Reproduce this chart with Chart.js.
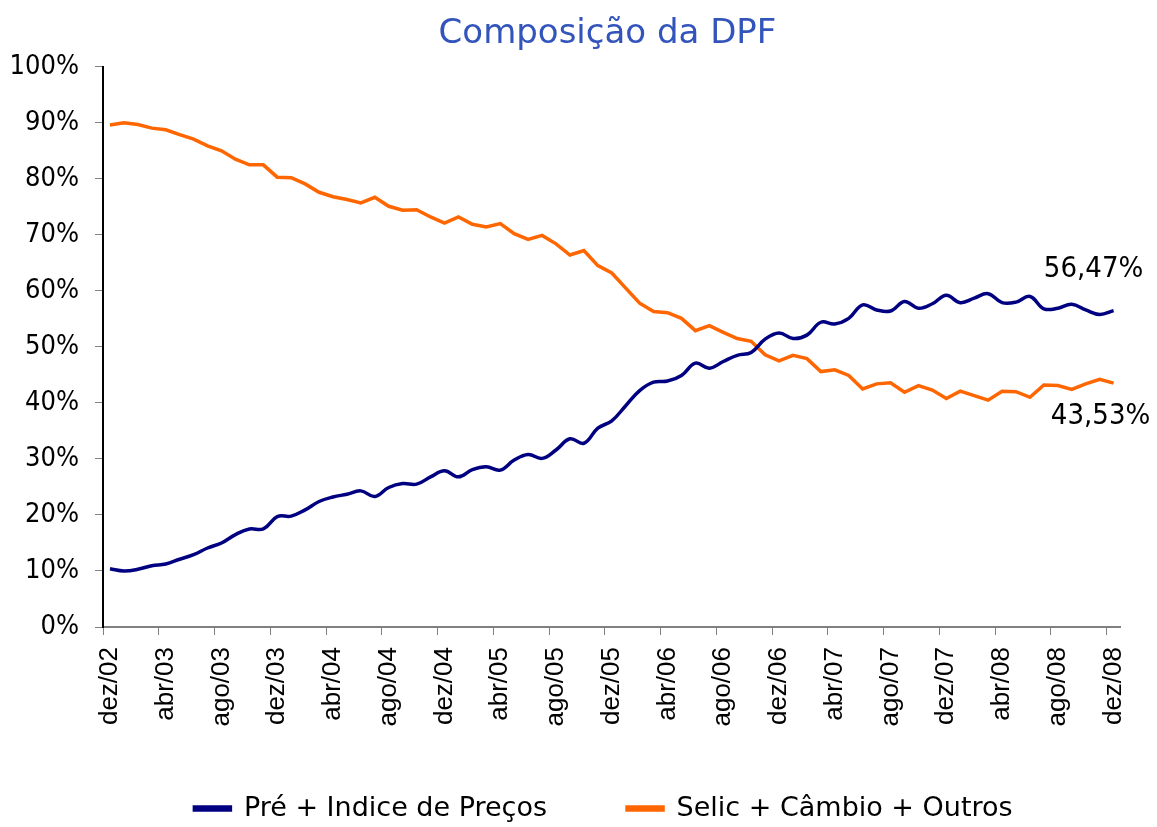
<!DOCTYPE html>
<html>
<head>
<meta charset="utf-8">
<script src="https://cdn.jsdelivr.net/npm/chart.js@4"></script>
<style>
  html, body { margin: 0; padding: 0; background: #fff; }
  #wrap { width: 1157px; height: 827px; }
</style>
</head>
<body>
<div id="wrap"><canvas id="dpf" width="1157" height="827"></canvas></div>
<script>
const monthNames = ['jan', 'fev', 'mar', 'abr', 'mai', 'jun', 'jul', 'ago', 'set', 'out', 'nov', 'dez'];

/* monthly, dez/02 .. dez/08 (73 months) */
const months = [];
for (let y = 2002; y <= 2008; y++) {
  monthNames.forEach((m, i) => {
    if (y === 2002 && i < 11) return;
    months.push(m + '/' + String(y).slice(2));
  });
}

const preIndice = [
  10.4, 10.0, 10.3, 10.95, 11.25, 12.1, 12.9, 14.1, 15.0, 16.5, 17.5, 17.5,
  19.7, 19.8, 20.9, 22.4, 23.2, 23.7, 24.3, 23.3, 24.9, 25.6, 25.5, 26.8,
  27.9, 26.8, 28.1, 28.6, 28.0, 29.8, 30.8, 30.1, 31.6, 33.6, 32.8, 35.5,
  36.8, 39.5, 42.2, 43.7, 43.9, 44.9, 47.1, 46.2, 47.4, 48.5, 49.0, 51.4,
  52.5, 51.5, 52.1, 54.4, 54.1, 55.1, 57.5, 56.6, 56.4, 58.1, 56.9, 57.7,
  59.2, 57.9, 58.7, 59.5, 57.9, 58.0, 59.0, 56.8, 56.9, 57.6, 56.6, 55.8,
  56.47
];

const selicCambio = [
  89.6, 90.0, 89.7, 89.05, 88.75, 87.9, 87.1, 85.9, 85.0, 83.5, 82.5, 82.5,
  80.3, 80.2, 79.1, 77.6, 76.8, 76.3, 75.7, 76.7, 75.1, 74.4, 74.5, 73.2,
  72.1, 73.2, 71.9, 71.4, 72.0, 70.2, 69.2, 69.9, 68.4, 66.4, 67.2, 64.5,
  63.2, 60.5, 57.8, 56.3, 56.1, 55.1, 52.9, 53.8, 52.6, 51.5, 51.0, 48.6,
  47.5, 48.5, 47.9, 45.6, 45.9, 44.9, 42.5, 43.4, 43.6, 41.9, 43.1, 42.3,
  40.8, 42.1, 41.3, 40.5, 42.1, 42.0, 41.0, 43.2, 43.1, 42.4, 43.4, 44.2,
  43.53
];

const yTicks = [0, 10, 20, 30, 40, 50, 60, 70, 80, 90, 100];

const condensed = '"DejaVu Sans Condensed", "DejaVu Sans", sans-serif';
const wide = '"DejaVu Sans", sans-serif';
Chart.defaults.font.family = condensed;
Chart.defaults.color = '#000';

function pct(v) {
  return v.toFixed(2).replace('.', ',') + '%';
}

/* final values written next to the line ends */
const endLabels = {
  id: 'endLabels',
  afterDatasetsDraw(chart) {
    const ctx = chart.ctx;
    ctx.save();
    ctx.font = '29px ' + condensed;
    ctx.fillStyle = '#000';
    ctx.textAlign = 'center';
    ctx.textBaseline = 'middle';
    const offsets = [[-20, -41], [-13, 33]];
    chart.data.datasets.forEach((ds, i) => {
      const meta = chart.getDatasetMeta(i);
      const last = meta.data[meta.data.length - 1];
      ctx.fillText(pct(ds.data[ds.data.length - 1]), last.x + offsets[i][0], last.y + offsets[i][1]);
    });
    ctx.restore();
  }
};

/* title and legend sit a bit right of the chart centre in the original */
const nudge = {
  id: 'nudge',
  afterLayout(chart) {
    const t = chart.titleBlock;
    t.left += 45; t.right += 45;
    const l = chart.legend;
    l.left += 41; l.right += 41;
    l.top -= 12;
  }
};

new Chart(document.getElementById('dpf'), {
  type: 'line',
  data: {
    labels: months,
    datasets: [
      {
        label: 'Pré + Indice de Preços',
        data: preIndice,
        borderColor: '#000080',
        backgroundColor: '#000080',
        borderWidth: 3.5,
        tension: 0.4,
        pointRadius: 0
      },
      {
        label: 'Selic + Câmbio + Outros',
        data: selicCambio,
        borderColor: '#ff6600',
        backgroundColor: '#ff6600',
        borderWidth: 3.5,
        tension: 0,
        pointRadius: 0
      }
    ]
  },
  options: {
    responsive: false,
    animation: false,
    layout: { padding: { left: 0, right: 32, top: 0, bottom: 0 } },
    plugins: {
      title: {
        display: true,
        text: 'Composição da DPF',
        color: '#3355bb',
        font: { size: 34, weight: 'normal', family: wide },
        padding: { top: 14, bottom: 12 }
      },
      legend: {
        position: 'bottom',
        maxHeight: 100,
        labels: {
          boxWidth: 36,
          boxHeight: 3,
          padding: 80,
          font: { size: 27, family: wide },
          color: '#000'
        }
      },
      tooltip: { enabled: false }
    },
    scales: {
      x: {
        offset: true,
        afterFit: scale => { scale.height = 100; },
        border: { color: '#808080', width: 2 },
        grid: {
          offset: true,
          drawOnChartArea: false,
          tickLength: 8,
          color: ctx => (ctx.index % 4 === 0 ? '#808080' : 'rgba(0,0,0,0)')
        },
        ticks: {
          autoSkip: false,
          maxRotation: 90,
          minRotation: 90,
          padding: 12,
          font: { size: 26, family: '"Liberation Sans", Arial, sans-serif' },
          callback: (v, i) => (i % 4 === 0 ? months[i] : '')
        }
      },
      y: {
        min: 0,
        max: 100,
        afterFit: scale => { scale.width = 103; },
        afterBuildTicks: scale => { scale.ticks = yTicks.map(v => ({ value: v })); },
        border: { color: '#000', width: 2 },
        grid: {
          drawOnChartArea: false,
          tickLength: 8,
          color: '#808080'
        },
        ticks: {
          padding: 16,
          font: { size: 27 },
          callback: v => v + '%'
        }
      }
    }
  },
  plugins: [endLabels, nudge]
});
</script>
</body>
</html>
